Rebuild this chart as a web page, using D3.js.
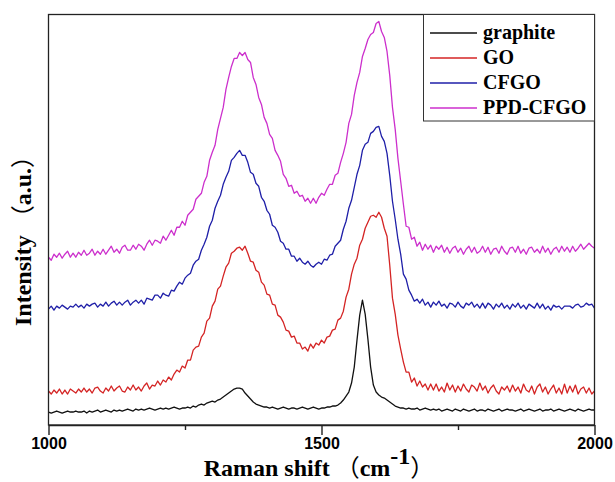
<!DOCTYPE html>
<html>
<head>
<meta charset="utf-8">
<script src="https://cdn.jsdelivr.net/npm/d3@7"></script>
<style>
  html, body { margin: 0; padding: 0; background: #fff; }
  svg { display: block; }
</style>
</head>
<body>
<svg id="chart" width="615" height="482"></svg>
<script>
// Raman spectra sampled every 5 cm-1 from 1000 to 2000 cm-1 (arbitrary intensity, curves offset)
const shiftStart = 1000;
const shiftEnd = 2000;
const shiftStep = 5;

const graphite = [
  13,12,13,14,13,12,13,14,13,13,
  14,13,13,14,12,14,13,14,15,13,
  14,15,14,13,15,14,15,14,15,16,
  15,14,16,15,16,15,16,17,16,15,
  16,17,16,17,16,17,18,17,16,17,
  17,18,17,19,18,20,21,20,22,23,
  24,23,25,26,28,30,32,34,36,37,
  37,36,32,29,26,23,21,20,19,18,
  18,17,18,17,16,17,18,17,16,17,
  17,16,17,18,17,16,17,18,17,16,
  17,17,18,18,19,19,20,22,25,29,
  33,42,58,85,110,125,111,86,58,40,
  33,30,28,27,25,23,21,19,18,17,
  17,16,17,16,16,17,15,16,17,16,
  15,16,15,16,14,15,16,15,14,16,
  15,14,16,15,14,15,16,14,15,15,
  14,16,15,14,15,16,14,15,16,15,
  15,14,15,16,14,15,16,15,14,15,
  16,14,15,15,16,14,15,16,15,14,
  15,16,15,14,16,15,14,15,16,15,
  15
];

const go = [
  34,31,35,32,36,31,35,31,36,34,
  32,36,33,37,33,36,32,37,38,34,
  32,37,34,39,34,37,39,34,33,38,
  35,40,35,38,34,39,42,36,40,39,
  44,40,45,43,48,45,51,55,53,59,
  57,65,65,75,78,79,88,92,104,107,
  119,124,136,139,149,158,162,172,174,177,
  178,175,179,172,164,163,155,153,143,140,
  131,130,121,120,110,108,103,95,94,88,
  89,82,82,76,78,74,81,77,82,80,
  85,82,88,89,95,96,105,107,114,128,
  136,151,161,167,180,186,197,203,209,210,
  208,213,208,197,189,160,127,111,90,76,
  63,53,53,43,47,39,44,38,41,35,
  41,35,41,34,38,33,42,35,40,33,
  39,34,41,36,33,40,38,34,42,35,
  39,32,37,40,34,31,38,35,39,33,
  40,34,38,32,41,35,33,39,31,38,
  41,33,38,31,36,40,32,37,31,41,
  32,39,33,40,31,36,38,32,37,31,
  34
];

const cfgo = [
  116,119,115,119,117,120,118,116,119,118,
  121,118,120,117,121,119,121,122,118,121,
  119,123,119,122,124,120,123,120,123,125,
  120,123,125,122,125,121,127,126,125,130,
  130,127,132,130,129,135,134,139,143,141,
  147,150,152,160,164,166,175,181,188,199,
  205,217,224,230,241,248,254,265,268,272,
  275,270,270,263,253,251,242,239,228,224,
  215,211,200,198,193,184,182,176,176,169,
  169,164,167,163,161,164,160,158,161,163,
  161,166,165,170,171,179,182,185,196,204,
  217,225,238,251,260,275,281,283,292,294,
  298,299,289,284,272,250,224,206,186,171,
  151,146,135,130,124,126,122,126,120,123,
  118,123,120,124,119,121,117,122,121,118,
  123,119,117,122,120,123,118,121,117,122,
  117,122,120,116,121,118,122,117,120,116,
  121,118,122,117,120,116,121,119,117,122,
  117,121,116,119,115,120,118,119,116,119,
  119,119,117,120,121,118,119,122,120,121,
  117
];

const ppdCfgo = [
  168,165,171,168,172,167,171,174,168,172,
  168,173,170,175,170,172,176,170,174,171,
  176,171,175,179,173,176,172,178,180,175,
  175,180,176,181,179,175,181,185,180,185,
  184,182,189,185,190,195,190,198,198,204,
  200,210,213,216,226,229,232,243,249,265,
  273,280,296,307,318,336,348,359,367,367,
  373,370,373,366,363,348,341,328,321,308,
  302,291,287,275,270,264,251,247,239,240,
  232,234,229,230,224,227,222,227,222,228,
  232,230,236,241,241,250,252,263,272,283,
  302,311,330,343,353,369,377,386,391,393,
  402,404,394,388,374,350,318,296,267,244,
  221,199,198,186,188,179,183,175,181,176,
  180,173,179,176,180,173,178,172,177,179,
  173,177,171,176,179,173,178,172,174,179,
  173,178,171,176,177,172,179,174,171,177,
  178,173,179,172,176,171,177,178,173,176,
  172,179,173,177,171,176,178,173,179,174,
  178,173,179,174,177,181,176,179,182,179,
  177
];

const seriesNames = ["graphite", "GO", "CFGO", "PPD-CFGO"];
const seriesValues = [graphite, go, cfgo, ppdCfgo];
const seriesColors = ["#111111", "#d42424", "#1f1fa8", "#cc2fcc"];

const xTicks = [1000, 1250, 1500, 1750, 2000];
const xMajorTicks = [1000, 1500, 2000];
const yMax = 411;

const serif = "'Liberation Serif', 'Times New Roman', 'Noto Sans CJK SC', serif";
const sans = "'Liberation Sans', Arial, sans-serif";
const cjk = "'Noto Sans CJK SC', sans-serif";

const svg = d3.select("#chart");
const plot = { left: 48.5, right: 594.5, top: 14.5, bottom: 425 };

const x = d3.scaleLinear().domain([shiftStart, shiftEnd]).range([plot.left, plot.right]);
const y = d3.scaleLinear().domain([0, yMax]).range([plot.bottom, plot.top]);

const shifts = d3.range(shiftStart, shiftEnd + 1, shiftStep);

svg.append("defs").append("clipPath").attr("id", "plotClip")
  .append("rect")
  .attr("x", plot.left).attr("y", plot.top)
  .attr("width", plot.right - plot.left).attr("height", plot.bottom - plot.top);

// spectra
const line = d3.line()
  .x((d, i) => x(shifts[i]))
  .y(d => y(d));

svg.append("g").attr("clip-path", "url(#plotClip)")
  .selectAll("path")
  .data(seriesValues)
  .join("path")
  .attr("d", d => line(d))
  .attr("fill", "none")
  .attr("stroke", (d, i) => seriesColors[i])
  .attr("stroke-width", 1.3)
  .attr("stroke-linejoin", "round");

// frame
svg.append("rect")
  .attr("x", plot.left).attr("y", plot.top)
  .attr("width", plot.right - plot.left).attr("height", plot.bottom - plot.top)
  .attr("fill", "none")
  .attr("stroke", "#222")
  .attr("stroke-width", 1.3);

// bottom axis: long ticks with labels at 1000/1500/2000, short ticks between
const xAxis = d3.axisBottom(x)
  .tickValues(xTicks)
  .tickSizeInner(10)
  .tickSizeOuter(0)
  .tickFormat(d => xMajorTicks.includes(d) ? String(d) : "");

const gx = svg.append("g")
  .attr("transform", `translate(0,${plot.bottom})`)
  .call(xAxis);
gx.select(".domain").attr("stroke", "#222").attr("stroke-width", 1.6);
gx.selectAll(".tick line")
  .attr("stroke", "#222")
  .attr("stroke-width", 1.4)
  .attr("y2", d => xMajorTicks.includes(d) ? 10 : 5);
gx.selectAll(".tick text")
  .attr("y", 24)
  .attr("dy", null)
  .attr("fill", "#000")
  .style("font-family", sans)
  .style("font-weight", "bold")
  .style("font-size", "16px");

// axis titles
const xTitle = svg.append("text")
  .attr("x", 319)
  .attr("y", 476)
  .attr("text-anchor", "middle")
  .style("font-family", serif)
  .style("font-weight", "bold")
  .style("font-size", "24px")
  .attr("fill", "#000");
xTitle.append("tspan").text("Raman shift ");
xTitle.append("tspan").style("font-family", cjk).style("font-weight", "normal").text("（");
xTitle.append("tspan").text("cm");
xTitle.append("tspan").attr("dy", -12).text("-1");
xTitle.append("tspan").attr("dy", 12).style("font-family", cjk).style("font-weight", "normal").text("）");

const yTitle = svg.append("text")
  .attr("transform", "translate(31,235) rotate(-90)")
  .attr("text-anchor", "middle")
  .style("font-family", serif)
  .style("font-weight", "bold")
  .style("font-size", "24px")
  .attr("fill", "#000");
yTitle.append("tspan").text("Intensity ");
yTitle.append("tspan").style("font-family", cjk).style("font-weight", "normal").text("（");
yTitle.append("tspan").text("a.u.");
yTitle.append("tspan").style("font-family", cjk).style("font-weight", "normal").text("）");

// legend
const legend = svg.append("g");
legend.append("rect")
  .attr("x", 423.5).attr("y", plot.top)
  .attr("width", plot.right - 423.5).attr("height", 106.5)
  .attr("fill", "#fff")
  .attr("stroke", "#333")
  .attr("stroke-width", 1);

const items = legend.selectAll("g.item")
  .data(seriesNames)
  .join("g")
  .attr("class", "item")
  .attr("transform", (d, i) => `translate(0,${33 + i * 25})`);
items.append("line")
  .attr("x1", 430).attr("x2", 477)
  .attr("y1", 0).attr("y2", 0)
  .attr("stroke", (d, i) => seriesColors[i])
  .attr("stroke-width", 1.4);
items.append("text")
  .attr("x", 483)
  .attr("y", 6)
  .style("font-family", serif)
  .style("font-weight", "bold")
  .style("font-size", "20px")
  .attr("fill", "#000")
  .text(d => d);
</script>
</body>
</html>
